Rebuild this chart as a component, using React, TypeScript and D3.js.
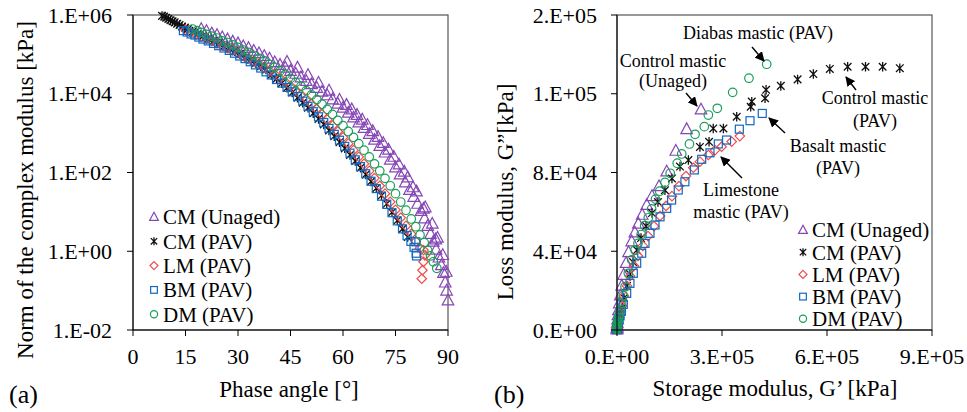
import React from 'react';
import * as d3 from 'd3';

// ---- panel (a): phase angle [deg] vs norm of complex modulus [kPa]
const blackCmUnaged: [number, number][] = [
  [19.5, 4.4e5], [21, 3.9e5], [22.5, 3.4e5], [24, 3.1e5], [25.5, 2.7e5], [27, 2.4e5],
  [28.5, 2.1e5], [30, 1.9e5], [31.5, 1.6e5], [33, 1.45e5], [34.5, 1.23e5], [36, 1.07e5],
  [37.5, 9.1e4], [39, 7.8e4], [40.5, 6.3e4], [42, 5.4e4], [43.5, 4.6e4], [45, 3.8e4],
  [46.5, 3.2e4], [48, 2.6e4], [49.5, 2.1e4], [51, 1.74e4], [52.5, 1.41e4], [54, 1.12e4],
  [55.5, 9.1e3], [57, 7.2e3], [58.5, 5.6e3], [60, 4.4e3], [61.5, 3.3e3], [62.5, 4.0e3],
  [63, 2.5e3], [64.5, 1.86e3], [65.5, 2.2e3], [66, 1.35e3], [67.5, 950], [68.5, 1120],
  [69, 680], [70.5, 470], [71.5, 560], [72, 320], [73.5, 210], [74.5, 250], [75, 135],
  [76.3, 89], [77.5, 105], [77.8, 56], [79, 36], [80, 42], [80.2, 24], [81.3, 16],
  [82.3, 10.5], [83, 12], [83.3, 6.8], [84.2, 4.4], [85, 2.75], [85.8, 1.74], [86.5, 2.0],
  [86.6, 1.1], [87.4, 0.69], [88.1, 0.44], [88.7, 0.28], [89.2, 0.16], [89.6, 0.1], [90, 0.056],
  // upper row of the same isotherms
  [44, 6.5e4], [47, 4.6e4], [50, 3.0e4], [53, 1.9e4], [56, 1.2e4], [59, 7.0e3], [61, 5.2e3],
  [64, 2.9e3], [67, 1.6e3], [70, 800], [73, 380], [76, 160], [78.5, 75], [81, 33],
  [83.5, 13], [85.5, 5], [87, 2.2], [88.5, 0.8], [89.5, 0.3],
];
const blackCmPav: [number, number][] = [
  [8.3, 9.5e5], [8.9, 9.1e5], [9.5, 8.5e5], [10.1, 7.9e5], [10.7, 7.4e5], [11.3, 6.9e5],
  [11.9, 6.5e5], [12.6, 6.0e5], [13.3, 5.6e5], [14, 5.1e5], [14.8, 4.8e5], [15.7, 4.4e5],
  [17, 3.8e5], [18.5, 3.3e5], [20, 2.9e5], [21.5, 2.5e5], [23, 2.2e5], [24.5, 1.9e5],
  [26, 1.62e5], [27.5, 1.41e5], [29, 1.2e5], [30.5, 1.02e5], [32, 8.5e4], [33.5, 7.2e4],
  [35, 6.0e4], [36.5, 5.0e4], [38, 4.1e4], [39.5, 3.0e4], [41, 2.4e4], [42.5, 1.86e4],
  [44, 1.41e4], [45.5, 1.07e4], [47, 7.9e3], [48.5, 5.9e3], [50, 4.4e3], [51.5, 3.2e3],
  [53, 2.3e3], [54.5, 1.66e3], [56, 1.17e3], [57.5, 830], [59, 590], [60.5, 410],
  [62, 280], [63.5, 195], [65, 132], [66.5, 89], [68, 59], [69.5, 40], [71, 26],
  [72.5, 16], [74, 9.8], [75.5, 6.0], [77, 3.7], [78.5, 2.3],
];
const blackLmPav: [number, number][] = [
  [15, 4.2e5], [16.5, 3.6e5], [18, 3.2e5], [19.5, 2.8e5], [21, 2.5e5], [22.5, 2.2e5],
  [24, 1.9e5], [25.5, 1.66e5], [27, 1.45e5], [28.5, 1.26e5], [30, 1.07e5], [31.5, 9.1e4],
  [33, 7.8e4], [34.5, 6.6e4], [36, 5.5e4], [37.5, 4.6e4], [39, 3.8e4], [40.5, 3.1e4],
  [42, 2.5e4], [43.5, 2.0e4], [45, 1.58e4], [46.5, 1.23e4], [48, 9.5e3], [49.5, 7.4e3],
  [51, 5.5e3], [52.5, 4.1e3], [54, 3.0e3], [55.5, 2.2e3], [57, 1.55e3], [58.5, 1.1e3],
  [60, 780], [61.5, 540], [63, 370], [64.5, 250], [66, 166], [67.5, 110], [69, 72],
  [70.5, 46], [72, 29], [73.5, 18], [75, 11.2], [76.5, 7.1], [78, 4.4], [79.5, 2.75],
  [80.8, 1.78], [82, 1.2], [83, 1.07], [83.4, 0.79], [83, 0.54], [82.7, 0.33], [82.5, 0.2],
];
const blackBmPav: [number, number][] = [
  [14.4, 4.0e5], [15.5, 3.7e5], [16.6, 3.3e5], [17.7, 3.1e5], [18.8, 2.75e5], [20, 2.45e5],
  [21.5, 2.2e5], [23, 1.9e5], [24.5, 1.66e5], [26, 1.45e5], [27.5, 1.26e5], [29, 1.07e5],
  [30.5, 9.1e4], [32, 7.8e4], [33.5, 6.5e4], [35, 5.4e4], [36.5, 4.5e4], [38, 3.6e4],
  [39.5, 3.0e4], [41, 2.3e4], [42.5, 1.86e4], [44, 1.45e4], [45.5, 1.12e4], [47, 8.5e3],
  [48.5, 6.5e3], [50, 4.8e3], [51.5, 3.5e3], [53, 2.6e3], [54.5, 1.86e3], [56, 1.32e3],
  [57.5, 930], [59, 660], [60.5, 460], [62, 310], [63.5, 210], [65, 141], [66.5, 93],
  [68, 60], [69.5, 39], [71, 25], [72.5, 15.5], [74, 9.5], [75.5, 5.9], [77, 3.7],
  [78.3, 2.5], [79.4, 1.78], [80.3, 1.26], [80.8, 1.74], [80.9, 0.89], [81, 0.76],
];
const blackDmPav: [number, number][] = [
  [17, 4.4e5], [18.3, 4.0e5], [19.6, 3.6e5], [21, 3.2e5], [22.5, 2.9e5], [24, 2.6e5],
  [25.5, 2.2e5], [27, 2.0e5], [28.5, 1.74e5], [30, 1.51e5], [31.5, 1.29e5], [33, 1.12e5],
  [34.5, 9.5e4], [36, 7.9e4], [37.5, 6.8e4], [39, 5.6e4], [40.5, 4.7e4], [42, 3.8e4],
  [43.5, 3.1e4], [45, 2.45e4], [46.5, 1.95e4], [48, 1.55e4], [49.5, 1.2e4], [51, 9.3e3],
  [52.5, 7.1e3], [54, 5.4e3], [55.5, 4.0e3], [57, 3.0e3], [58.5, 2.1e3], [60, 1.55e3],
  [61.5, 1.1e3], [63, 780], [64.5, 540], [66, 370], [67.5, 250], [69, 166], [70.5, 110],
  [72, 71], [73.5, 46], [75, 29], [76.5, 17.8], [78, 11], [79.5, 6.6], [80.8, 4.2],
  [82, 2.6], [83.2, 1.66], [84.2, 1.05], [85, 0.76], [85.8, 0.54], [86.8, 0.37],
];

// ---- panel (b): storage modulus G' vs loss modulus G'' [kPa]
const coleCmUnaged: [number, number][] = [
  [240000, 112000], [199000, 102000], [168000, 91000], [142000, 80500], [120000, 73000],
  [100000, 68000], [85000, 63500], [72000, 58500], [61000, 54000], [51000, 49500],
  [42000, 45000], [33000, 39500], [26000, 34000], [19000, 28000], [13500, 22500],
  [9500, 17500], [6500, 13500], [4200, 10000], [2700, 7500], [1700, 5300], [1000, 3700],
  [600, 2500], [350, 1600], [200, 1000], [100, 600], [50, 300],
];
const coleCmPav: [number, number][] = [
  [808000, 133000], [759000, 133700], [710000, 133700], [659000, 133700], [608000, 132600],
  [561000, 130000], [516000, 127300], [468000, 124000], [426000, 122000], [423000, 117700],
  [385000, 116000], [382000, 113400], [342000, 108300], [304000, 102400], [275000, 102400],
  [263000, 95600], [237000, 93000], [204000, 86300], [180000, 83000], [157000, 77000],
  [137000, 71000], [117000, 65000], [100000, 59400], [83000, 52800], [68600, 46700],
  [57000, 40600], [45700, 34500], [37000, 28400], [28600, 22400], [20000, 16300],
  [14300, 11200], [10000, 8000], [7000, 5800], [4800, 4200], [3200, 3000], [2100, 2100],
  [1300, 1500], [800, 1000], [500, 700], [300, 450], [150, 280], [70, 150],
];
const coleLmPav: [number, number][] = [
  [351000, 98500], [327600, 95700], [299000, 93100], [280000, 91400], [261000, 88900],
  [237000, 85500], [218000, 82400], [197000, 78200], [177000, 73100], [157000, 68000],
  [140000, 63000], [123000, 57900], [105700, 52800], [88600, 47700], [74000, 42700],
  [60000, 37600], [48600, 32500], [37000, 27400], [28600, 22400], [20000, 17300],
  [14300, 12200], [10000, 9500], [6800, 7200], [4500, 5400], [3000, 4000], [2000, 2900],
  [1300, 2100], [800, 1500], [500, 1000], [300, 650], [170, 420], [90, 270], [50, 170],
];
const coleBmPav: [number, number][] = [
  [415000, 110000], [380000, 106300], [349500, 102000], [313000, 96500], [289500, 94500],
  [265700, 90000], [242000, 86700], [221000, 81300], [194000, 75300], [175000, 71100],
  [156000, 66000], [142000, 61800], [123000, 57500], [108600, 53300], [94300, 49100],
  [80000, 44000], [70600, 39000], [56300, 33900], [46600, 28800], [37000, 23700],
  [27700, 18600], [18000, 13000], [12500, 9500], [8500, 7200], [5700, 5400], [3800, 4000],
  [2500, 2900], [1600, 2100], [1000, 1500], [600, 1000], [350, 700], [200, 450],
  [100, 280], [50, 160],
];
const coleDmPav: [number, number][] = [
  [427700, 135000], [377000, 127900], [330500, 120700], [286600, 112600], [261000, 109200],
  [249500, 103300], [223000, 99400], [207000, 94500], [185000, 89400], [172000, 84700],
  [152000, 79600], [137000, 75000], [122000, 70500], [110000, 66500], [99000, 61500],
  [89500, 57000], [79000, 53000], [69000, 48500], [60000, 44000], [51400, 40600],
  [42000, 35600], [32400, 28800], [22900, 22000], [18000, 17500], [13400, 13500],
  [9500, 10500], [6500, 8000], [4300, 6200], [2800, 4600], [1800, 3500], [1100, 2600],
  [700, 1900], [400, 1350], [220, 950], [120, 650], [60, 420], [30, 270],
];

const seriesNames = ['CM (Unaged)', 'CM (PAV)', 'LM (PAV)', 'BM (PAV)', 'DM (PAV)'];
const seriesColors = ['#8547b5', '#111111', '#f24b4b', '#1168c0', '#1a9e5a'];
const seriesShapes = ['triangle', 'star', 'diamond', 'square', 'circle'];

const phaseTicks = [0, 15, 30, 45, 60, 75, 90];
const modulusTicks = [1e-2, 1, 1e2, 1e4, 1e6];
const modulusLabels = ['1.E-02', '1.E+00', '1.E+02', '1.E+04', '1.E+06'];
const storageTicks = [0, 3e5, 6e5, 9e5];
const storageLabels = ['0.E+00', '3.E+05', '6.E+05', '9.E+05'];
const lossTicks = [0, 4e4, 8e4, 1.2e5, 1.6e5];
const lossLabels = ['0.E+00', '4.E+04', '8.E+04', '1.E+05', '2.E+05'];

const FONT = 'Liberation Serif, DejaVu Serif, serif';
const TOP = 15;
const BOTTOM = 330;

function Marker({ shape, x, y, color, size }: { shape: string; x: number; y: number; color: string; size: number }) {
  const s = size;
  const common = { fill: 'none', stroke: color, strokeWidth: 1.2 };
  if (shape === 'triangle') {
    return <path d={`M${x},${y - s * 0.6}L${x + s * 0.55},${y + s * 0.42}L${x - s * 0.55},${y + s * 0.42}Z`} {...common} />;
  }
  if (shape === 'diamond') {
    return <path d={`M${x},${y - s / 2}L${x + s / 2},${y}L${x},${y + s / 2}L${x - s / 2},${y}Z`} {...common} />;
  }
  if (shape === 'square') {
    return <rect x={x - s * 0.42} y={y - s * 0.42} width={s * 0.84} height={s * 0.84} {...common} />;
  }
  if (shape === 'circle') {
    return <circle cx={x} cy={y} r={s * 0.45} {...common} />;
  }
  const h = s * 0.5;
  return (
    <path
      d={`M${x},${y - h}V${y + h}M${x - h * 0.8},${y - h * 0.8}L${x + h * 0.8},${y + h * 0.8}M${x + h * 0.8},${y - h * 0.8}L${x - h * 0.8},${y + h * 0.8}`}
      {...common}
      strokeWidth={1.3}
    />
  );
}

function Legend({ x, y, gap }: { x: number; y: number; gap: number }) {
  return (
    <g>
      {seriesNames.map((name, i) => (
        <g key={name}>
          <Marker shape={seriesShapes[i]} x={x} y={y + i * gap} color={seriesColors[i]} size={8} />
          <text x={x + 9} y={y + i * gap} dy="0.35em" fontSize={21}>{name}</text>
        </g>
      ))}
    </g>
  );
}

function Arrow({ x1, y1, x2, y2 }: { x1: number; y1: number; x2: number; y2: number }) {
  return <line x1={x1} y1={y1} x2={x2} y2={y2} stroke="#000" strokeWidth={1.4} markerEnd="url(#arrowHead)" />;
}

export default function App() {
  // panel (a)
  const xA = d3.scaleLinear().domain([0, 90]).range([133, 448]);
  const yA = d3.scaleLog().domain([1e-2, 1e6]).range([BOTTOM, TOP]);
  // panel (b)
  const xB = d3.scaleLinear().domain([0, 9e5]).range([617, 932]);
  const yB = d3.scaleLinear().domain([0, 1.6e5]).range([BOTTOM, TOP]);

  const blackData = [blackCmUnaged, blackCmPav, blackLmPav, blackBmPav, blackDmPav];
  const coleData = [coleCmUnaged, coleCmPav, coleLmPav, coleBmPav, coleDmPav];

  return (
    <svg width={967} height={412} style={{ position: 'absolute', left: 0, top: 0, background: '#fff', fontFamily: FONT }}>
      <defs>
        <marker id="arrowHead" viewBox="0 0 10 10" refX="9" refY="5" markerWidth="7" markerHeight="7" orient="auto">
          <path d="M0,0L10,5L0,10Z" fill="#000" />
        </marker>
      </defs>

      {/* ---------- (a) ---------- */}
      <rect x={133} y={TOP} width={315} height={BOTTOM - TOP} fill="none" stroke="#555" strokeWidth={1.2} />
      {blackData.map((data, si) => (
        <g key={si}>
          {data.map(([d, g], i) => (
            <Marker key={i} shape={seriesShapes[si]} x={xA(d)} y={yA(g)} color={seriesColors[si]} size={si === 0 ? 10.5 : 9.5} />
          ))}
        </g>
      ))}
      <line x1={133} x2={133} y1={TOP} y2={BOTTOM} stroke="#000" />
      <line x1={133} x2={448} y1={BOTTOM} y2={BOTTOM} stroke="#000" />
      {modulusTicks.map((t, i) => (
        <g key={t}>
          <line x1={127} x2={133} y1={yA(t)} y2={yA(t)} stroke="#000" />
          <text x={112} y={yA(t)} dy="0.35em" textAnchor="end" fontSize={22}>{modulusLabels[i]}</text>
        </g>
      ))}
      {phaseTicks.map((t) => (
        <g key={t}>
          <line x1={xA(t)} x2={xA(t)} y1={BOTTOM} y2={BOTTOM + 6} stroke="#000" />
          <text x={xA(t)} y={BOTTOM + 34} textAnchor="middle" fontSize={22}>{t}</text>
        </g>
      ))}
      <text x={289} y={397} textAnchor="middle" fontSize={23}>Phase angle  [°]</text>
      <text transform="translate(25,190) rotate(-90)" textAnchor="middle" dy="0.35em" fontSize={23}>
        Norm of the complex modulus [kPa]
      </text>
      <text x={9} y={403} fontSize={26}>(a)</text>
      <Legend x={154} y={217} gap={24.3} />

      {/* ---------- (b) ---------- */}
      <rect x={617} y={TOP} width={315} height={BOTTOM - TOP} fill="none" stroke="#555" strokeWidth={1.2} />
      {coleData.map((data, si) => (
        <g key={si}>
          {data.map(([gp, gpp], i) => (
            <Marker key={i} shape={seriesShapes[si]} x={xB(gp)} y={yB(gpp)} color={seriesColors[si]} size={si === 0 ? 10.5 : 9.5} />
          ))}
        </g>
      ))}
      <line x1={617} x2={617} y1={TOP} y2={BOTTOM} stroke="#000" />
      <line x1={617} x2={932} y1={BOTTOM} y2={BOTTOM} stroke="#000" />
      {lossTicks.map((t, i) => (
        <g key={t}>
          <line x1={611} x2={617} y1={yB(t)} y2={yB(t)} stroke="#000" />
          <text x={597} y={yB(t)} dy="0.35em" textAnchor="end" fontSize={22}>{lossLabels[i]}</text>
        </g>
      ))}
      {storageTicks.map((t, i) => (
        <g key={t}>
          <line x1={xB(t)} x2={xB(t)} y1={BOTTOM} y2={BOTTOM + 6} stroke="#000" />
          <text x={xB(t)} y={BOTTOM + 34} textAnchor="middle" fontSize={22}>{storageLabels[i]}</text>
        </g>
      ))}
      <text x={775} y={396} textAnchor="middle" fontSize={23}>Storage modulus, G’ [kPa]</text>
      <text transform="translate(505,192) rotate(-90)" textAnchor="middle" dy="0.35em" fontSize={23}>
        Loss modulus, G”[kPa]
      </text>
      <text x={494} y={403} fontSize={26}>(b)</text>

      <g fontSize={18} textAnchor="middle">
        <text x={758} y={39}>Diabas mastic (PAV)</text>
        <text x={673} y={67}>Control mastic</text>
        <text x={673} y={87}>(Unaged)</text>
        <text x={875} y={104}>Control mastic</text>
        <text x={875} y={127}>(PAV)</text>
        <text x={838} y={152}>Basalt mastic</text>
        <text x={838} y={174}>(PAV)</text>
        <text x={741} y={196}>Limestone</text>
        <text x={741} y={218}>mastic (PAV)</text>
      </g>
      <Arrow x1={752} y1={47} x2={764} y2={61} />
      <Arrow x1={686} y1={93} x2={697} y2={106} />
      <Arrow x1={856} y1={90} x2={846} y2={77} />
      <Arrow x1={785} y1={133} x2={769} y2={118} />
      <Arrow x1={742} y1={178} x2={721} y2={157} />
      <Legend x={803} y={230} gap={22.2} />
    </svg>
  );
}
